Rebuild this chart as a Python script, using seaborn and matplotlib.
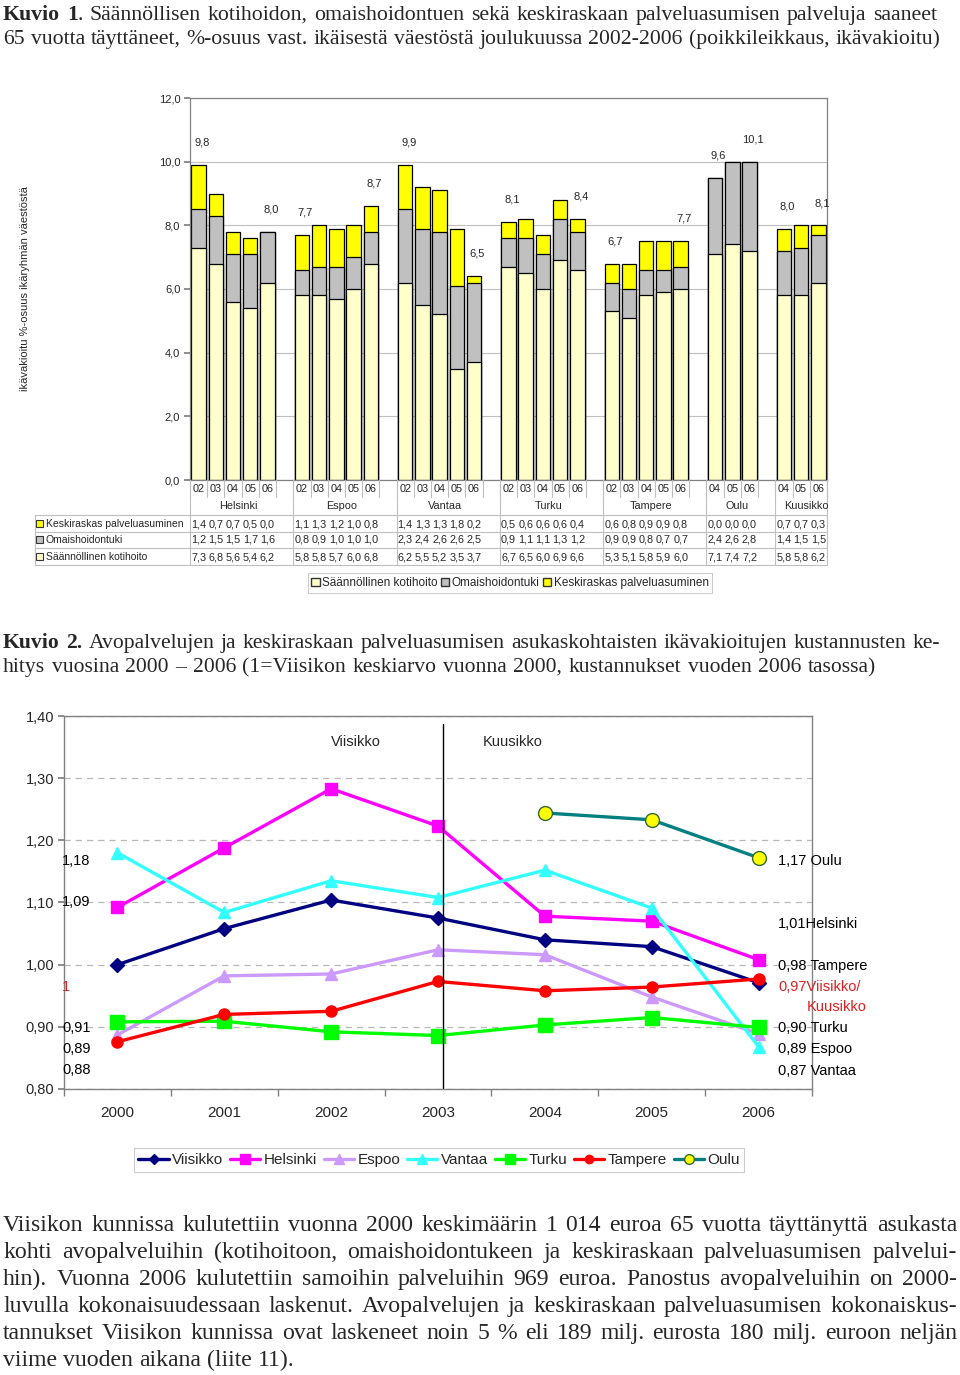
import numpy as np
import pandas as pd
import matplotlib
matplotlib.use("Agg")
import matplotlib.pyplot as plt
import seaborn as sns
from matplotlib.patches import Patch, Rectangle
from matplotlib.lines import Line2D
from matplotlib.transforms import blended_transform_factory

# ---------------- data: chart 1 ----------------
cities = ["Helsinki", "Espoo", "Vantaa", "Turku", "Tampere", "Oulu", "Kuusikko"]
city_years = [["02", "03", "04", "05", "06"]] * 5 + [["04", "05", "06"]] * 2
keskiraskas = [[1.4, 0.7, 0.7, 0.5, 0.0], [1.1, 1.3, 1.2, 1.0, 0.8], [1.4, 1.3, 1.3, 1.8, 0.2],
               [0.5, 0.6, 0.6, 0.6, 0.4], [0.6, 0.8, 0.9, 0.9, 0.8], [0.0, 0.0, 0.0], [0.7, 0.7, 0.3]]
omaishoito = [[1.2, 1.5, 1.5, 1.7, 1.6], [0.8, 0.9, 1.0, 1.0, 1.0], [2.3, 2.4, 2.6, 2.6, 2.5],
              [0.9, 1.1, 1.1, 1.3, 1.2], [0.9, 0.9, 0.8, 0.7, 0.7], [2.4, 2.6, 2.8], [1.4, 1.5, 1.5]]
kotihoito = [[7.3, 6.8, 5.6, 5.4, 6.2], [5.8, 5.8, 5.7, 6.0, 6.8], [6.2, 5.5, 5.2, 3.5, 3.7],
             [6.7, 6.5, 6.0, 6.9, 6.6], [5.3, 5.1, 5.8, 5.9, 6.0], [7.1, 7.4, 7.2], [5.8, 5.8, 6.2]]
total_labels = [[9.8, 8.0], [7.7, 8.7], [9.9, 6.5], [8.1, 8.4], [6.7, 7.7], [9.6, 10.1], [8.0, 8.1]]
series1_names = ["Keskiraskas palveluasuminen", "Omaishoidontuki", "Säännöllinen kotihoito"]

# ---------------- data: chart 2 ----------------
years2 = ["2000", "2001", "2002", "2003", "2004", "2005", "2006"]
viisikko = [1.00, 1.058, 1.104, 1.075, 1.040, 1.029, 0.971]
helsinki = [1.092, 1.188, 1.283, 1.223, 1.078, 1.070, 1.008]
espoo = [0.887, 0.982, 0.985, 1.024, 1.016, 0.948, 0.889]
vantaa = [1.180, 1.084, 1.135, 1.108, 1.152, 1.091, 0.868]
turku = [0.908, 0.909, 0.892, 0.886, 0.903, 0.915, 0.899]
tampere = [0.876, 0.920, 0.925, 0.973, 0.958, 0.964, 0.977]
oulu_years = ["2004", "2005", "2006"]
oulu = [1.244, 1.233, 1.172]

title1 = ["Kuvio 1", ". Säännöllisen kotihoidon, omaishoidontuen sekä keskiraskaan palveluasumisen palveluja saaneet",
          "65 vuotta täyttäneet, %-osuus vast. ikäisestä väestöstä joulukuussa 2002-2006 (poikkileikkaus, ikävakioitu)"]
title2 = ["Kuvio 2.", "Avopalvelujen ja keskiraskaan palveluasumisen asukaskohtaisten ikävakioitujen kustannusten ke-",
          "hitys vuosina 2000 – 2006  (1=Viisikon keskiarvo vuonna 2000, kustannukset vuoden 2006 tasossa)"]
body = ["Viisikon kunnissa kulutettiin vuonna 2000 keskimäärin 1 014 euroa  65 vuotta täyttänyttä asukasta",
        "kohti avopalveluihin (kotihoitoon, omaishoidontukeen ja keskiraskaan palveluasumisen palvelui-",
        "hin). Vuonna 2006 kulutettiin samoihin palveluihin 969 euroa. Panostus avopalveluihin on 2000-",
        "luvulla kokonaisuudessaan laskenut.  Avopalvelujen ja keskiraskaan palveluasumisen kokonaiskus-",
        "tannukset Viisikon kunnissa ovat laskeneet noin 5 % eli 189 milj. eurosta 180 milj. euroon neljän",
        "viime vuoden aikana (liite 11)."]

sns.set_theme(style="white")
plt.rcParams["font.family"] = ["Liberation Sans", "DejaVu Sans"]

W, H = 960, 1375
fig = plt.figure(figsize=(9.6, 13.75), dpi=100)
fig.patch.set_facecolor("white")


def fx(px):
    return px / W


def fy(py):
    return 1 - py / H


GRID = "#BFBFBF"
SPINE = "#808080"
F1 = 8.0   # chart 1 small text
FT = 7.8   # table numbers
FR = 7.5   # table row labels

# ---------------- chart 1 ----------------
ax1 = fig.add_axes([fx(190), fy(480), fx(827) - fx(190), fy(98) - fy(480)])
order, rows, first_last = [], [], []
blank = 0
for ci, city in enumerate(cities):
    start = len(order)
    for yi, yr in enumerate(city_years[ci]):
        name = f"{city} {yr}"
        order.append(name)
        s, o, k = kotihoito[ci][yi], omaishoito[ci][yi], keskiraskas[ci][yi]
        rows.append(dict(slot=name, s=s, so=s + o, total=s + o + k))
    first_last.append((start, len(order) - 1))
    if ci < len(cities) - 1:
        blank += 1
        order.append(" " * blank)
df1 = pd.DataFrame(rows)

common = dict(data=df1, x="slot", order=order, ax=ax1, width=0.84, errorbar=None,
              saturation=1, edgecolor="black", linewidth=0.9)
sns.barplot(y="total", color="#FFFF00", **common)
sns.barplot(y="so", color="#C0C0C0", **common)
sns.barplot(y="s", color="#FFFFCC", **common)

ax1.set_xlim(-0.5, len(order) - 0.5)
ax1.set_ylim(0, 12)
ax1.set_yticks(np.arange(0, 13, 2))
ax1.set_yticklabels([f"{v:.1f}".replace(".", ",") for v in np.arange(0, 13, 2)], fontsize=F1)
ax1.set_xticks([])
ax1.set_xlabel("")
ax1.set_ylabel("")
ax1.yaxis.grid(True, color=GRID, lw=0.8)
ax1.set_axisbelow(True)
ax1.tick_params(axis="y", length=4, color=SPINE, direction="out", pad=3, left=True)
for sp in ax1.spines.values():
    sp.set_color(SPINE)
    sp.set_linewidth(0.9)

for ci, (a, b) in enumerate(first_last):
    for idx, lab in zip((a, b), total_labels[ci]):
        tot = df1.loc[df1.slot == order[idx], "total"].iloc[0]
        ax1.text(idx + 0.2, tot + 0.7, f"{lab:.1f}".replace(".", ","), ha="center", va="center", fontsize=F1)

fig.text(fx(25), fy(289), "ikävakioitu %-osuus ikäryhmän väestöstä", rotation=90, ha="center",
         va="center", fontsize=F1)

# table under chart 1
bt = blended_transform_factory(ax1.transData, fig.transFigure)


def hline(x0, x1, py, trans):
    fig.add_artist(Line2D([x0, x1], [fy(py), fy(py)], transform=trans, color=GRID, lw=0.8))


def vline(x, py0, py1, trans):
    fig.add_artist(Line2D([x, x], [fy(py0), fy(py1)], transform=trans, color=GRID, lw=0.8))


for i, name in enumerate(order):
    if name.strip():
        fig.text(i, fy(489), name.split()[-1], transform=bt, ha="center", va="center", fontsize=FT)
for i in range(len(order) + 1):
    vline(i - 0.5, 480, 497, bt)
for ci, (a, b) in enumerate(first_last):
    n = b - a + 1
    fig.text(a + (n - 1) / 2 + 0.3, fy(506), cities[ci], transform=bt, ha="center", va="center", fontsize=FT)
    vline(a - 0.5, 480, 565, bt)
vline(len(order) - 0.5, 480, 565, bt)
for py in (515, 532, 548, 565):
    hline(fx(35), fx(827), py, fig.transFigure)
vline(fx(35), 515, 565, fig.transFigure)

row_data = [keskiraskas, omaishoito, kotihoito]
row_colors = ["#FFFF00", "#C0C0C0", "#FFFFCC"]
row_py = [524, 540, 557]
for r in range(3):
    fig.add_artist(Rectangle((fx(36), fy(row_py[r] + 3.5)), fx(7), 7 / H, transform=fig.transFigure,
                             facecolor=row_colors[r], edgecolor="#333333", lw=0.8))
    fig.text(fx(46), fy(row_py[r]), series1_names[r], ha="left", va="center", fontsize=FR)
    for ci, (a, b) in enumerate(first_last):
        for j, v in enumerate(row_data[r][ci]):
            fig.text(a + j, fy(row_py[r]), f"{v:.1f}".replace(".", ","), transform=bt,
                     ha="center", va="center", fontsize=FT)

leg1 = fig.legend(handles=[Patch(facecolor="#FFFFCC", edgecolor="#333333", label="Säännöllinen kotihoito"),
                           Patch(facecolor="#C0C0C0", edgecolor="#333333", label="Omaishoidontuki"),
                           Patch(facecolor="#FFFF00", edgecolor="#333333", label="Keskiraskas palveluasuminen")],
                  loc="center", bbox_to_anchor=(fx(510), fy(583)), ncol=3, fontsize=F1 + 0.5, frameon=True,
                  fancybox=False, edgecolor=GRID, handlelength=0.7, handleheight=0.7, handletextpad=0.2,
                  columnspacing=0.3, borderpad=0.3, borderaxespad=0)
leg1.get_frame().set_linewidth(0.8)

# ---------------- chart 2 ----------------
ax2 = fig.add_axes([fx(64), fy(1089), fx(812) - fx(64), fy(716) - fy(1089)])
xs = np.arange(len(years2))
specs = [("Viisikko", viisikko, "#000080", "D", 7, "#000080"),
         ("Helsinki", helsinki, "#FF00FF", "s", 9, "#FF00FF"),
         ("Espoo", espoo, "#CC99FF", "^", 9, "#CC99FF"),
         ("Vantaa", vantaa, "#33FFFF", "^", 9, "#33FFFF"),
         ("Turku", turku, "#00FF00", "s", 10, "#00FF00"),
         ("Tampere", tampere, "#FF0000", "o", 8, "#FF0000")]
handles = []
for name, vals, col, mk, ms, fc in specs:
    sns.lineplot(x=xs, y=vals, ax=ax2, color=col, marker=mk, markersize=ms, lw=2.4,
                 markerfacecolor=fc, markeredgecolor=col, markeredgewidth=1)
    handles.append(Line2D([], [], color=col, marker=mk, markersize=ms * 0.75, lw=2.4,
                          markerfacecolor=fc, markeredgecolor=col, label=name))
oulu_x = [years2.index(y) for y in oulu_years]
sns.lineplot(x=oulu_x, y=oulu, ax=ax2, color="#008080", marker="o", markersize=10, lw=2.4,
             markerfacecolor="#FFFF00", markeredgecolor="#336633", markeredgewidth=1)
handles.append(Line2D([], [], color="#008080", marker="o", markersize=7, lw=2.4,
                      markerfacecolor="#FFFF00", markeredgecolor="#336633", label="Oulu"))

ax2.set_xlim(-0.5, len(years2) - 0.5)
ax2.set_ylim(0.80, 1.40)
ax2.set_xticks(xs)
ax2.set_xticklabels(years2, fontsize=11)
ax2.set_xticks(np.arange(-0.5, len(years2), 1), minor=True)
ax2.tick_params(axis="x", which="major", length=0, pad=12)
ax2.tick_params(axis="x", which="minor", length=5, color=SPINE, direction="out", bottom=True)
yt = np.round(np.arange(0.80, 1.401, 0.10), 2)
ax2.set_yticks(yt)
ax2.set_yticklabels([f"{v:.2f}".replace(".", ",") for v in yt], fontsize=10.5)
ax2.tick_params(axis="y", length=4, color=SPINE, direction="out", left=True, pad=3)
ax2.yaxis.grid(True, linestyle=(0, (5, 4)), color="#B8B8B8", lw=0.9)
ax2.set_axisbelow(True)
ax2.set_xlabel("")
ax2.set_ylabel("")
for sp in ax2.spines.values():
    sp.set_color(SPINE)
    sp.set_linewidth(1)
ax2.axvline(3.05, ymin=0, ymax=0.979, color="black", lw=1)

fig.text(fx(356), fy(742), "Viisikko", ha="center", va="center", fontsize=10.5)
fig.text(fx(513), fy(742), "Kuusikko", ha="center", va="center", fontsize=10.5)
left_labels = [("1,18", 861, "black"), ("1,09", 902, "black"), ("1", 987, "#E02020"),
               ("0,91", 1028, "black"), ("0,89", 1049, "black"), ("0,88", 1070, "black")]
for s, py, c in left_labels:
    fig.text(fx(62), fy(py), s, ha="left", va="center", fontsize=10.5, color=c)
right_labels = [("1,17 Oulu", 778, 861, "black"), ("1,01Helsinki", 778, 924, "black"),
                ("0,98 Tampere", 778, 966, "black"), ("0,97Viisikko/", 778, 987, "#E02020"),
                ("Kuusikko", 807, 1007, "#E02020"), ("0,90 Turku", 778, 1028, "black"),
                ("0,89 Espoo", 778, 1049, "black"), ("0,87 Vantaa", 778, 1071, "black")]
for s, px, py, c in right_labels:
    fig.text(fx(px), fy(py), s, ha="left", va="center", fontsize=10.5, color=c)

leg2 = fig.legend(handles=handles, loc="center", bbox_to_anchor=(fx(439), fy(1160)), ncol=7, fontsize=11,
                  frameon=True, fancybox=False, edgecolor=GRID, handlelength=2.0, handletextpad=0.2,
                  columnspacing=0.45, borderpad=0.3, borderaxespad=0)
leg2.get_frame().set_linewidth(0.8)

# ---------------- serif text blocks ----------------
renderer = fig.canvas.get_renderer()
SERIF = ["Liberation Serif", "DejaVu Serif"]


def measure(s, size, weight="normal"):
    t = fig.text(0, 0, s, fontsize=size, fontweight=weight, family=SERIF)
    w = t.get_window_extent(renderer).width
    t.remove()
    return w


def words_of(parts):
    out = []
    for txt, wt in parts:
        for w in txt.split():
            out.append((w, wt))
    return out


def natural_width(parts, size):
    ws = words_of(parts)
    sp = measure("x x", size) - measure("xx", size)
    return sum(measure(w, size, wt) for w, wt in ws) + sp * (len(ws) - 1)


def draw_line(parts, x0, x1, base_py, size, justify=True, glue_first=None):
    ws = words_of(parts)
    widths = [measure(w, size, wt) for w, wt in ws]
    sp = measure("x x", size) - measure("xx", size)
    glue = [False] * len(ws)
    if glue_first is not None:
        glue[glue_first] = True
    ngaps = sum(1 for i in range(1, len(ws)) if not glue[i])
    gap = (x1 - x0 - sum(widths)) / ngaps if (justify and ngaps > 0) else sp
    x = x0
    for i, ((w, wt), wd) in enumerate(zip(ws, widths)):
        if i > 0 and not glue[i]:
            x += gap
        fig.text(fx(x), fy(base_py), w, ha="left", va="baseline", fontsize=size, fontweight=wt, family=SERIF)
        x += wd


# title 1
p1 = [(title1[0], "bold"), (title1[1], "normal")]
s1 = 15 * 934 / natural_width(p1, 15)
n_bold = len(title1[0].split())
draw_line(p1, 3, 937, 20, s1, justify=True, glue_first=n_bold)
draw_line([(title1[2], "normal")], 3, 940, 44, s1, justify=True)

# title 2
p2 = [(title2[0], "bold"), (title2[1], "normal")]
s2 = 15 * 937 / natural_width(p2, 15)
draw_line(p2, 3, 940, 648, s2, justify=True)
draw_line([(title2[2], "normal")], 3, 876, 672, s2, justify=True)

# body
sb = min(15 * 954 / natural_width([(ln, "normal")], 15) for ln in body[:-1]) * 0.99
for i, ln in enumerate(body):
    last = i == len(body) - 1
    draw_line([(ln, "normal")], 3, 957, 1231 + 27 * i, sb, justify=not last)

fig.savefig("out.png", dpi=100, facecolor="white")
